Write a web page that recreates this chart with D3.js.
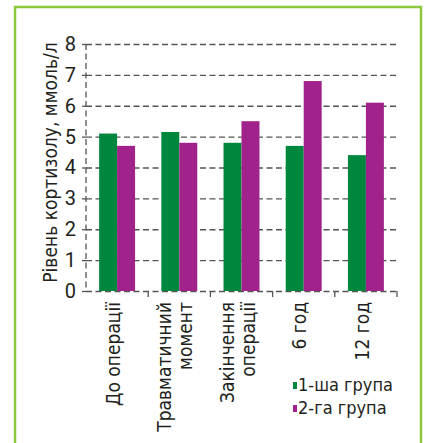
<!DOCTYPE html>
<html>
<head>
<meta charset="utf-8">
<title>Рівень кортизолу</title>
<script src="https://d3js.org/d3.v7.min.js" charset="utf-8"></script>
<style>
  body { margin: 0; background: #fff; }
  text { font-family: "Liberation Sans Narrow", "DejaVu Sans Condensed", Roboto, sans-serif; fill: #231f20; }
</style>
</head>
<body>
<div id="chart"></div>

<script type="text/javascript">
// data
var categories = [["До операції"], ["Травматичний", "момент"], ["Закінчення", "операції"], ["6 год"], ["12 год"]];
var seriesNames = ["1-ша група", "2-га група"];
var group1 = [5.1, 5.15, 4.8, 4.7, 4.4];
var group2 = [4.7, 4.8, 5.5, 6.8, 6.1];
var yTicks = [0, 1, 2, 3, 4, 5, 6, 7, 8];
var yTitle = "Рівень кортизолу, ммоль/л";
var colors = ["#00873e", "#a0228a"];

var width = 425,
    height = 443,
    plotL = 86, plotR = 397, plotT = 44, plotB = 291;

var svg = d3.select('#chart').append('svg')
    .attr('width', width)
    .attr('height', height);

svg.append('rect')
    .attr('x', 15).attr('y', 7)
    .attr('width', 406).attr('height', 460)
    .attr('fill', 'none')
    .attr('stroke', '#8dc63f')
    .attr('stroke-width', 2.5);

var catKeys = categories.map(function(d) { return d.join(' '); });
var series = [group1, group2];

var x0 = d3.scaleBand().domain(catKeys).range([plotL, plotR]);
var x1 = d3.scaleBand().domain(seriesNames).range([0, x0.bandwidth()]).paddingOuter(0.73);
var y = d3.scaleLinear().domain([0, 8]).range([plotB, plotT]);

// grid lines
var grid = svg.append('g')
    .attr('transform', 'translate(' + plotL + ',0)')
    .call(d3.axisLeft(y).tickValues(yTicks).tickSize(-(plotR - plotL)).tickFormat(''));
grid.select('.domain').remove();
grid.selectAll('line')
    .attr('stroke', '#555')
    .attr('stroke-width', 1.3)
    .attr('stroke-dasharray', '6,3.5');

// y axis: dashed spine, short ticks, labels
var yAxis = svg.append('g')
    .attr('transform', 'translate(' + plotL + ',0)')
    .call(d3.axisLeft(y).tickValues(yTicks).tickSize(4).tickPadding(6));
yAxis.select('.domain').remove();
yAxis.selectAll('line').attr('stroke', '#555').attr('stroke-width', 1.3);
yAxis.selectAll('text')
    .attr('font-size', 20)
    .attr('fill', '#231f20')
    .style('font-family', 'Roboto, sans-serif');

svg.append('line')
    .attr('x1', plotL).attr('x2', plotL)
    .attr('y1', y(8)).attr('y2', y(0))
    .attr('stroke', '#555')
    .attr('stroke-width', 1.3)
    .attr('stroke-dasharray', '6,3.5');

// x ticks at band edges
var edges = catKeys.map(function(k) { return x0(k) + x0.step(); });
svg.append('g').selectAll('line')
    .data(edges)
    .enter().append('line')
    .attr('x1', function(d) { return d; }).attr('x2', function(d) { return d; })
    .attr('y1', plotB).attr('y2', plotB + 6)
    .attr('stroke', '#555')
    .attr('stroke-width', 1.3);

// bars
var grp = svg.append('g').selectAll('g')
    .data(catKeys)
    .enter().append('g')
    .attr('transform', function(d) { return 'translate(' + x0(d) + ',0)'; });

grp.selectAll('rect')
    .data(function(d, i) { return series.map(function(s, j) { return { key: seriesNames[j], value: s[i], c: colors[j] }; }); })
    .enter().append('rect')
    .attr('x', function(d) { return x1(d.key); })
    .attr('y', function(d) { return y(d.value); })
    .attr('width', x1.bandwidth())
    .attr('height', function(d) { return y(0) - y(d.value); })
    .attr('fill', function(d) { return d.c; });

// category labels, rotated
var lineGap = 21;
var lab = svg.append('g').selectAll('text')
    .data(categories)
    .enter().append('text')
    .attr('transform', function(d, i) {
        return 'translate(' + (x0(catKeys[i]) + x0.bandwidth() / 2 - 4) + ',' + (plotB + 11) + ') rotate(-90)';
    })
    .attr('text-anchor', 'end')
    .attr('font-size', 19);

lab.selectAll('tspan')
    .data(function(d) { return d.map(function(t, j) { return { t: t, off: (j - (d.length - 1) / 2) * lineGap }; }); })
    .enter().append('tspan')
    .attr('x', 0)
    .attr('y', function(d) { return d.off; })
    .attr('dy', '0.35em')
    .text(function(d) { return d.t; });

// y title
svg.append('text')
    .attr('transform', 'translate(50,' + ((plotT + plotB) / 2 - 5) + ') rotate(-90)')
    .attr('text-anchor', 'middle')
    .attr('dy', '0.35em')
    .attr('font-size', 19)
    .text(yTitle);

// legend
var leg = svg.append('g').selectAll('g')
    .data(seriesNames)
    .enter().append('g')
    .attr('transform', function(d, i) { return 'translate(293,' + (391 + i * 23) + ')'; });

leg.append('rect')
    .attr('x', 0).attr('y', -9)
    .attr('width', 4).attr('height', 7)
    .attr('fill', function(d, i) { return colors[i]; });

leg.append('text')
    .attr('x', 5)
    .attr('font-size', 18)
    .text(function(d) { return d; });
</script>
</body>
</html>
